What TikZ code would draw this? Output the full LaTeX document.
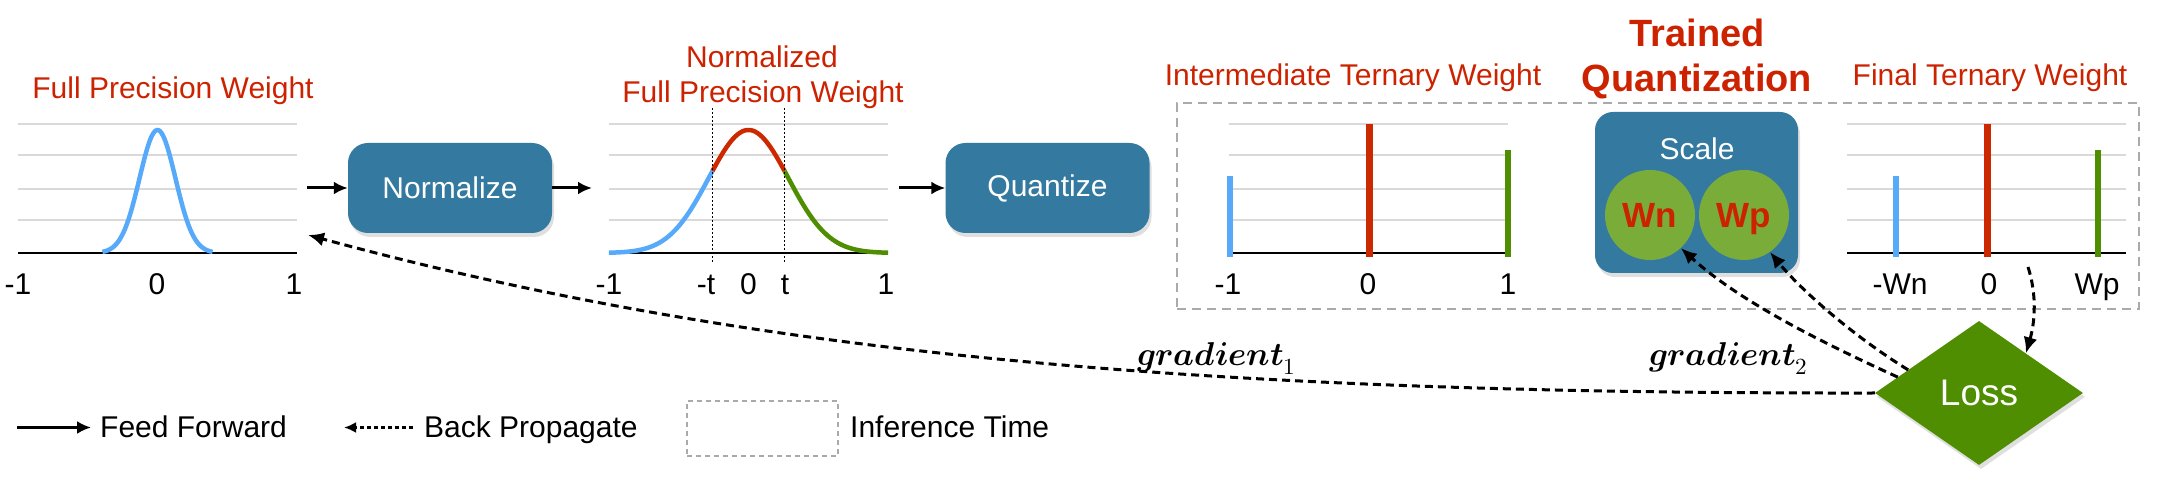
\documentclass[tikz,border=0pt]{standalone}
\usepackage{fontspec}
\usepackage{unicode-math}
\setmainfont{Liberation Sans}
\usetikzlibrary{arrows.meta,shapes.geometric,shadows,calc}

\definecolor{titlered}{RGB}{204,34,0}
\definecolor{curveblue}{RGB}{87,170,250}
\definecolor{curvered}{RGB}{204,41,0}
\definecolor{curvegreen}{RGB}{78,142,0}
\definecolor{boxblue}{RGB}{52,122,160}
\definecolor{wgreen}{RGB}{122,172,58}
\definecolor{lossgreen}{RGB}{78,142,0}
\definecolor{infgray}{RGB}{170,170,170}

\newcommand{\lblfont}{\fontsize{30}{36}\selectfont}

\tikzset{
  gridline/.style={draw=black!15, line width=1.2pt},
  axisline/.style={draw=black, line width=2pt},
  curve/.style={line width=4.5pt},
  ternbar/.style={line width=6pt},
  tline/.style={line width=1.3pt, dash pattern=on 2pt off 2pt},
  plottitle/.style={text=titlered, font=\lblfont, anchor=base, inner sep=0pt},
  ticklabel/.style={font=\lblfont, anchor=base, inner sep=0pt},
  legendtext/.style={font=\lblfont, anchor=base west, inner sep=0pt},
  opbox/.style={fill=boxblue, rounded corners=20pt, minimum width=204pt, minimum height=90pt,
    text=white, font=\lblfont, drop shadow={opacity=0.25, shadow xshift=2pt, shadow yshift=-4pt}},
  scalebox/.style={fill=boxblue, rounded corners=18pt, minimum width=203pt, minimum height=161pt,
    drop shadow={opacity=0.25, shadow xshift=2pt, shadow yshift=-4pt}},
  wcircle/.style={circle, fill=wgreen, minimum size=90pt, inner sep=0pt, text=titlered,
    font=\fontsize{35}{40}\selectfont\bfseries, text depth=0pt},
  lossnode/.style={diamond, fill=lossgreen, minimum width=208pt, minimum height=144pt, inner sep=0pt,
    text=white, font=\fontsize{37}{40}\selectfont, drop shadow={opacity=0.25, shadow xshift=2pt, shadow yshift=-4pt}},
  forward/.style={-{Latex[length=14pt,width=13pt]}, line width=3pt},
  backward/.style={-{Latex[length=16pt,width=14pt]}, line width=3pt, dash pattern=on 8pt off 5pt},
  infbox/.style={draw=infgray, line width=2.5pt, dash pattern=on 9pt off 6pt, inner sep=0pt},
  gradlabel/.style={anchor=base west, inner sep=0pt, font=\fontsize{33}{40}\selectfont},
}

\begin{document}
\begin{tikzpicture}[x=1pt,y=1pt]
\useasboundingbox (0,0) rectangle (2160,500);

% grids and axes of the four plots
\foreach \px in {18,609,1229,1847}{
  \foreach \gy in {280,311,345,376} \draw[gridline] (\px,\gy) -- ++(279,0);
  \draw[axisline] (\px,247) -- ++(279,0);
}

% full precision weight
\draw[curve, curveblue, domain=-3.06:3.06, samples=70, smooth] plot ({157.5+18*\x},{247+123*exp(-\x*\x/2)});
\node[plottitle] (fpwtitle) at (173,401) {Full Precision Weight};
\node[ticklabel] (fpwa) at (18,205) {-1};
\node[ticklabel] (fpwb) at (157,205) {0};
\node[ticklabel] (fpwc) at (294,205) {1};

% normalized full precision weight
\draw[curve, curveblue, domain=-3.49:-0.9, samples=50, smooth] plot ({748.5+40*\x},{247+123*exp(-\x*\x/2)});
\draw[curve, curvered, domain=-0.9:0.9, samples=40, smooth] plot ({748.5+40*\x},{247+123*exp(-\x*\x/2)});
\draw[curve, curvegreen, domain=0.9:3.49, samples=50, smooth] plot ({748.5+40*\x},{247+123*exp(-\x*\x/2)});
\draw[tline] (712.5,392) -- (712.5,237);
\draw[tline] (784.5,392) -- (784.5,237);
\node[plottitle] (nfpwtitlea) at (762,432) {Normalized};
\node[plottitle] (nfpwtitleb) at (763,397) {Full Precision Weight};
\node[ticklabel] (nfpwa) at (609,205) {-1};
\node[ticklabel] (nfpwb) at (706,205) {-t};
\node[ticklabel] (nfpwc) at (748.5,205) {0};
\node[ticklabel] (nfpwd) at (785,205) {t};
\node[ticklabel] (nfpwe) at (886,205) {1};

% intermediate ternary weight
\draw[ternbar, curveblue] (1230,243) -- (1230,324);
\draw[ternbar, curvered, line width=7pt] (1369.5,243) -- (1369.5,376);
\draw[ternbar, curvegreen] (1508,243) -- (1508,350);
\node[plottitle] (ittitle) at (1353,414) {Intermediate Ternary Weight};
\node[ticklabel] (ita) at (1228,205) {-1};
\node[ticklabel] (itb) at (1368,205) {0};
\node[ticklabel] (itc) at (1508,205) {1};

% final ternary weight
\draw[ternbar, curveblue] (1896,243) -- (1896,324);
\draw[ternbar, curvered, line width=7pt] (1987,243) -- (1987,376);
\draw[ternbar, curvegreen] (2098,243) -- (2098,350);
\node[plottitle] (fttitle) at (1990,414) {Final Ternary Weight};
\node[ticklabel] (fta) at (1900,205) {-Wn};
\node[ticklabel] (ftb) at (1989,205) {0};
\node[ticklabel] (ftc) at (2097,205) {Wp};

% operations
\node[opbox] (normalize) at (450,312) {Normalize};
\node[opbox] (quantize) at (1047.5,312) {Quantize};
\node[scalebox] (scale) at (1696.5,307.5) {};
\node[font=\lblfont, text=white, anchor=base, inner sep=0pt] (scalelabel) at (1697,340) {Scale};
\node[wcircle] (Wn) at (1650,285) {Wn};
\node[wcircle] (Wp) at (1744,285) {Wp};
\node[text=titlered, font=\fontsize{38}{44}\selectfont\bfseries, anchor=base, inner sep=0pt] (trained) at (1697,453) {Trained};
\node[text=titlered, font=\fontsize{38}{44}\selectfont\bfseries, anchor=base, inner sep=0pt] (quantization) at (1697,408) {Quantization};
\node[infbox, minimum width=962pt, minimum height=206pt] (inference) at (1658,294) {};
\node[lossnode] (Loss) at (1979,107) {Loss};

% feed forward
\coordinate (fpwout) at (307,312);
\coordinate (nfpwin) at (592,312);
\coordinate (nfpwout) at (899,312);
\draw[forward] (fpwout) -- (normalize.west);
\draw[forward] (normalize.east) -- (nfpwin);
\draw[forward] (nfpwout) -- (quantize.west);

% back propagate
\coordinate (fpwtip) at (308,265);
\coordinate (ftout) at (2028,233);
\draw[backward] (Loss.west) .. controls (1200,106) and (750,145) .. (fpwtip);
\draw[backward] ($(Loss.west)!0.22!(Loss.north)$) .. controls (1823,157) and (1740,198) .. (Wn.-47);
\draw[backward] ($(Loss.west)!0.32!(Loss.north)$) .. controls (1853,164) and (1801,210) .. (Wp.-55);
\draw[backward] (ftout) .. controls (2037,205) and (2035,178) .. ($(Loss.north)!0.45!(Loss.east)$);
\node[gradlabel] (grada) at (1137,134) {$\symbfit{gradient}_{1}$};
\node[gradlabel] (gradb) at (1649,134) {$\symbfit{gradient}_{2}$};

% legend
\coordinate (ffstart) at (17,72.5);
\coordinate (bptip) at (344,72.5);
\node[legendtext] (fflabel) at (100,62) {Feed Forward};
\node[legendtext] (bplabel) at (424,62) {Back Propagate};
\node[draw=infgray, line width=2pt, dash pattern=on 5pt off 4pt, minimum width=151pt, minimum height=55pt] (infkey) at (762.5,71.5) {};
\node[legendtext] (inflabel) at (850,62) {Inference Time};
\draw[forward, line width=2.5pt] (ffstart) -- ([xshift=-9pt,yshift=10.5pt]fflabel.base west);
\draw[backward, -{Latex[length=12pt,width=11pt]}, line width=2.5pt, dash pattern=on 4pt off 3pt] ([xshift=-11pt,yshift=10.5pt]bplabel.base west) -- (bptip);
\end{tikzpicture}
\end{document}
